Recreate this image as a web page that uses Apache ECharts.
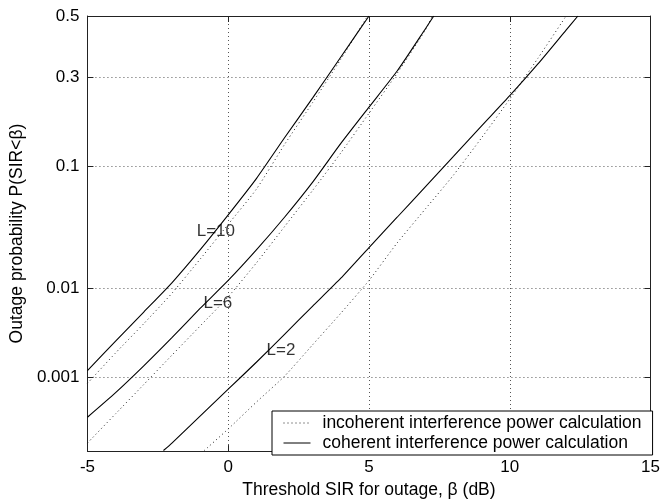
<!DOCTYPE html>
<html>
<head>
<meta charset="utf-8">
<script src="https://cdn.jsdelivr.net/npm/echarts@6/dist/echarts.min.js"></script>
<style>
  html, body { margin: 0; padding: 0; background: #fff; }
  #chart { width: 663px; height: 504px; }
</style>
</head>
<body>
<div id="chart"></div>
<script>
// x in dB, y = outage probability (normal probability scale)
const xTicks = [-5, 0, 5, 10, 15];
const yTickValues = [0.001, 0.01, 0.1, 0.3, 0.5];
const yTickLabels = ['0.001', '0.01', '0.1', '0.3', '0.5'];
const yMinP = 0.0001;

const cohL10X = [-5, -4, -3, -2, -1, 0, 1, 2, 3, 4, 5];
const cohL10P = [0.00122, 0.00272, 0.0057, 0.0113, 0.0228, 0.0446, 0.0823, 0.149, 0.242, 0.363, 0.5];
const incL10X = [-5, -4, -3, -2, -1, 0, 1, 2, 3, 4, 4.95];
const incL10P = [0.000845, 0.00199, 0.00427, 0.00889, 0.0188, 0.0375, 0.0694, 0.136, 0.230, 0.356, 0.5];

const cohL6X = [-5, -4, -3, -2, -1, 0, 1, 2, 3, 4, 5, 6, 7, 7.3];
const cohL6P = [0.000302, 0.000641, 0.00139, 0.00298, 0.00621, 0.0119, 0.0228, 0.0427, 0.0778, 0.138, 0.218, 0.319, 0.456, 0.5];
const incL6X = [-5, -4, -3, -2, -1, 0, 1, 2, 3, 4, 5, 6, 7, 7.25];
const incL6P = [0.000131, 0.000337, 0.000816, 0.00187, 0.00402, 0.0082, 0.0174, 0.0359, 0.0681, 0.121, 0.203, 0.312, 0.452, 0.5];

const cohL2X = [-2.3, -2, -1, 0, 1, 2, 3, 4, 5, 6, 7, 8, 9, 10, 11, 12, 12.42];
const cohL2P = [0.000102, 0.000131, 0.000313, 0.000711, 0.00154, 0.00326, 0.00657, 0.0125, 0.0239, 0.0427, 0.0721, 0.115, 0.174, 0.248, 0.341, 0.452, 0.5];
const incL2X = [-0.85, 0, 1, 2, 3, 4, 5, 6, 7, 8, 9, 10, 11, 12];
const incL2P = [0.000102, 0.000208, 0.000483, 0.00104, 0.00248, 0.00554, 0.0119, 0.0262, 0.0495, 0.0869, 0.149, 0.239, 0.359, 0.5];

const curveLabels = ['L=10', 'L=6', 'L=2'];
const curveLabelX = [-1.12, -0.88, 1.36];
const curveLabelP = [0.033, 0.0070, 0.00212];

const incName = 'incoherent interference power calculation';
const cohName = 'coherent interference power calculation';
const font = 'Liberation Sans, Arial, Helvetica, sans-serif';

// inverse of the standard normal cdf (Acklam)
function probit(p) {
  const a = [-3.969683028665376e+01, 2.209460984245205e+02, -2.759285104469687e+02, 1.383577518672690e+02, -3.066479806614716e+01, 2.506628277459239e+00];
  const b = [-5.447609879822406e+01, 1.615858368580409e+02, -1.556989798598866e+02, 6.680131188771972e+01, -1.328068155288572e+01];
  const c = [-7.784894002430293e-03, -3.223964580411365e-01, -2.400758277161838e+00, -2.549732539343734e+00, 4.374664141464968e+00, 2.938163982698783e+00];
  const d = [7.784695709041462e-03, 3.224671290700398e-01, 2.445134137142996e+00, 3.754408661907416e+00];
  const pl = 0.02425;
  let q, r;
  if (p < pl) {
    q = Math.sqrt(-2 * Math.log(p));
    return (((((c[0]*q+c[1])*q+c[2])*q+c[3])*q+c[4])*q+c[5]) / ((((d[0]*q+d[1])*q+d[2])*q+d[3])*q+1);
  }
  if (p <= 1 - pl) {
    q = p - 0.5; r = q * q;
    return (((((a[0]*r+a[1])*r+a[2])*r+a[3])*r+a[4])*r+a[5])*q / (((((b[0]*r+b[1])*r+b[2])*r+b[3])*r+b[4])*r+1);
  }
  q = Math.sqrt(-2 * Math.log(1 - p));
  return -(((((c[0]*q+c[1])*q+c[2])*q+c[3])*q+c[4])*q+c[5]) / ((((d[0]*q+d[1])*q+d[2])*q+d[3])*q+1);
}

const yTicksZ = yTickValues.map(probit);
const yMin = probit(yMinP);

function toPoints(xs, ps) {
  return xs.map((x, i) => [x, probit(ps[i])]);
}

function yLabel(v) {
  for (let i = 0; i < yTicksZ.length; i++) {
    if (Math.abs(yTicksZ[i] - v) < 1e-6) return yTickLabels[i];
  }
  return '';
}

const solid = { color: '#000', width: 1.1, type: 'solid' };
const dotted = { color: '#222', width: 1, type: [1, 3] };

function curve(name, xs, ps, style) {
  return {
    name: name,
    type: 'line',
    data: toPoints(xs, ps),
    showSymbol: false,
    symbol: 'none',
    smooth: 0.2,
    lineStyle: style,
    itemStyle: { color: style.color },
    emphasis: { disabled: true },
    silent: true,
    z: 3
  };
}

const gridLine = { show: true, lineStyle: { color: '#555', type: [1, 3], width: 1 } };
const axisLine = { show: true, onZero: false, lineStyle: { color: '#222', width: 1 } };
const tick = { show: true, inside: true, length: 6, lineStyle: { color: '#222' } };

const chart = echarts.init(document.getElementById('chart'));
chart.setOption({
  backgroundColor: '#fff',
  animation: false,
  textStyle: { fontFamily: font },
  grid: { left: 87, right: 11, top: 16, bottom: 44, containLabel: false },
  legend: {
    data: [incName, cohName],
    orient: 'vertical',
    left: 272,
    top: 411,
    itemWidth: 27,
    itemHeight: 14,
    itemGap: 2,
    padding: [3, 11, 3, 11],
    backgroundColor: '#fff',
    borderColor: '#000',
    borderWidth: 1,
    borderRadius: 0,
    selectedMode: false,
    itemStyle: { opacity: 0 },
    lineStyle: { width: 1 },
    textStyle: { fontFamily: font, fontSize: 17.5, color: '#000', padding: [0, 0, 0, 7] }
  },
  xAxis: [
    {
      type: 'value',
      min: -5,
      max: 15,
      interval: 5,
      name: 'Threshold SIR for outage, \u03b2 (dB)',
      nameLocation: 'middle',
      nameGap: 26,
      nameTextStyle: { fontFamily: font, fontSize: 17.5, color: '#000' },
      axisLine: axisLine,
      axisTick: tick,
      axisLabel: { fontFamily: font, fontSize: 17, color: '#000', margin: 8 },
      splitLine: gridLine
    },
    {
      type: 'value',
      position: 'top',
      min: -5,
      max: 15,
      interval: 5,
      axisLine: axisLine,
      axisTick: tick,
      axisLabel: { show: false },
      splitLine: { show: false }
    }
  ],
  yAxis: [
    {
      type: 'value',
      min: yMin,
      max: 0,
      name: 'Outage probability P(SIR<\u03b2)',
      nameLocation: 'middle',
      nameGap: 60,
      nameTextStyle: { fontFamily: font, fontSize: 17.5, color: '#000' },
      axisLine: axisLine,
      axisTick: Object.assign({}, tick, { customValues: yTicksZ }),
      axisLabel: { fontFamily: font, fontSize: 17, color: '#000', margin: 8, customValues: yTicksZ, formatter: yLabel },
      splitLine: gridLine
    },
    {
      type: 'value',
      position: 'right',
      min: yMin,
      max: 0,
      axisLine: axisLine,
      axisTick: Object.assign({}, tick, { customValues: yTicksZ }),
      axisLabel: { show: false, customValues: yTicksZ },
      splitLine: { show: false }
    }
  ],
  series: [
    curve(incName, incL10X, incL10P, dotted),
    curve(incName, incL6X, incL6P, dotted),
    curve(incName, incL2X, incL2P, dotted),
    curve(cohName, cohL10X, cohL10P, solid),
    curve(cohName, cohL6X, cohL6P, solid),
    curve(cohName, cohL2X, cohL2P, solid),
    {
      name: 'labels',
      type: 'scatter',
      symbolSize: 0,
      silent: true,
      z: 4,
      data: curveLabels.map((t, i) => ({ value: [curveLabelX[i], probit(curveLabelP[i])], name: t })),
      label: {
        show: true,
        position: 'right',
        distance: 0,
        formatter: p => p.name,
        fontFamily: font,
        fontSize: 17,
        color: '#000'
      }
    }
  ]
});
</script>
</body>
</html>
